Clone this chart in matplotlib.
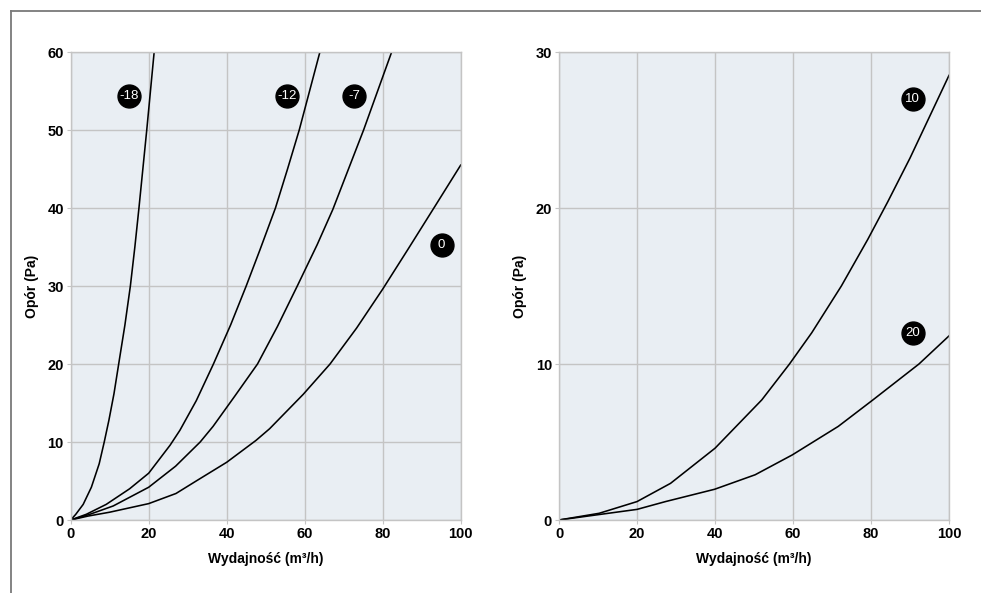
import matplotlib
matplotlib.use("Agg")
import matplotlib.pyplot as plt
from matplotlib.lines import Line2D

plt.rcParams['font.family'] = ['Liberation Sans', 'DejaVu Sans']

# ---- data: left chart (curves labelled by temperature) ----
x_m18 = [0, 1.3, 3.2, 5.3, 7.3, 8.6, 9.8, 11.1, 12.4, 13.9, 15.3, 16.45, 17.5, 19.5, 21.4]
y_m18 = [0, 0.73, 2.0, 4.2, 7.2, 10, 12.8, 16.2, 20.3, 25, 30, 35, 40, 50, 60]
x_m12 = [0, 4.0, 9.1, 15.1, 20, 25.5, 28, 32.2, 36.6, 41, 45, 48.5, 52.5, 55.6, 58.6, 63.9]
y_m12 = [0, 0.73, 2.0, 4.0, 6.0, 9.6, 11.5, 15.3, 20, 25, 30, 34.6, 40, 45, 50, 60]
x_m7 = [0, 4.9, 10.9, 20, 26.9, 33.2, 36.5, 42.1, 47.9, 53, 58.1, 63.2, 67.2, 75.1, 82.3]
y_m7 = [0, 0.73, 1.8, 4.2, 6.9, 10, 12, 15.9, 20, 24.8, 30, 35.3, 39.8, 50, 60]
x_0 = [0, 4.4, 10, 20, 27, 32.5, 40, 47.5, 51, 59.6, 66.5, 73.3, 80, 86.6, 93.5, 100]
y_0 = [0, 0.5, 1.0, 2.1, 3.4, 5.1, 7.4, 10.2, 11.7, 16.1, 20, 24.6, 29.6, 34.8, 40.3, 45.5]

left_labels = ['-18', '-12', '-7', '0']
left_label_pos = [(15.0, 54.3), (55.4, 54.3), (72.7, 54.3), (95.1, 35.3)]

# ---- data: right chart ----
x_10 = [0, 10.3, 20, 28.6, 40, 52, 59.1, 64.8, 72.4, 79.2, 84.3, 90, 100]
y_10 = [0, 0.43, 1.18, 2.35, 4.6, 7.7, 10, 12, 15.0, 18.0, 20.4, 23.2, 28.5]
x_20 = [0, 9.4, 20, 27.3, 39.9, 50.3, 59.8, 71.6, 80.5, 92.3, 100]
y_20 = [0, 0.32, 0.68, 1.18, 1.97, 2.9, 4.17, 6.0, 7.7, 10, 11.8]
right_labels = ['10', '20']
right_label_pos = [(90.7, 27.0), (90.7, 12.0)]

x_ticks = [0, 20, 40, 60, 80, 100]
left_yticks = [0, 10, 20, 30, 40, 50, 60]
right_yticks = [0, 10, 20, 30]
xlabel = 'Wydajność (m³/h)'
ylabel = 'Opór (Pa)'

BG = '#e9eef3'
GRID = '#c4c4c4'

fig = plt.figure(figsize=(9.81, 5.93), dpi=100)
W, H = 981, 593

# outer frame (top and left lines)
fig.add_artist(Line2D([11 / W, 1.0], [1 - 11 / H, 1 - 11 / H], color='#7a7a7a', lw=1.3,
                      transform=fig.transFigure))
fig.add_artist(Line2D([11 / W, 11 / W], [0.0, 1 - 11 / H], color='#7a7a7a', lw=1.3,
                      transform=fig.transFigure))

ax1 = fig.add_axes([70.7 / W, (H - 520) / H, 390 / W, 468 / H])
ax2 = fig.add_axes([559 / W, (H - 520) / H, 390 / W, 468 / H])


def style(ax, yticks, ymax):
    ax.set_facecolor(BG)
    ax.set_xlim(0, 100)
    ax.set_ylim(0, ymax)
    ax.set_xticks(x_ticks)
    ax.set_yticks(yticks)
    ax.grid(True, color=GRID, lw=1.0)
    ax.set_axisbelow(True)
    for s in ax.spines.values():
        s.set_color(GRID)
        s.set_linewidth(1.0)
    ax.tick_params(axis='both', length=3, color=GRID, labelsize=10.5, pad=2)
    for lab in ax.get_xticklabels() + ax.get_yticklabels():
        lab.set_fontweight('bold')
    ax.set_xlabel(xlabel, fontsize=10, fontweight='bold', labelpad=8)
    ax.set_ylabel(ylabel, fontsize=10, fontweight='bold', labelpad=6)


style(ax1, left_yticks, 60)
style(ax2, right_yticks, 30)

for xs, ys in [(x_m18, y_m18), (x_m12, y_m12), (x_m7, y_m7), (x_0, y_0)]:
    ax1.plot(xs, ys, color='black', lw=1.15, solid_joinstyle='round')
for xs, ys in [(x_10, y_10), (x_20, y_20)]:
    ax2.plot(xs, ys, color='black', lw=1.15, solid_joinstyle='round')


def badge(ax, txt, pos):
    ax.plot([pos[0]], [pos[1]], marker='o', markersize=16.5, color='black', zorder=5)
    ax.text(pos[0], pos[1], txt, color='white', fontsize=9.5, ha='center', va='center',
            zorder=6)


for t, p in zip(left_labels, left_label_pos):
    badge(ax1, t, p)
for t, p in zip(right_labels, right_label_pos):
    badge(ax2, t, p)

fig.savefig('out.png', dpi=100)
